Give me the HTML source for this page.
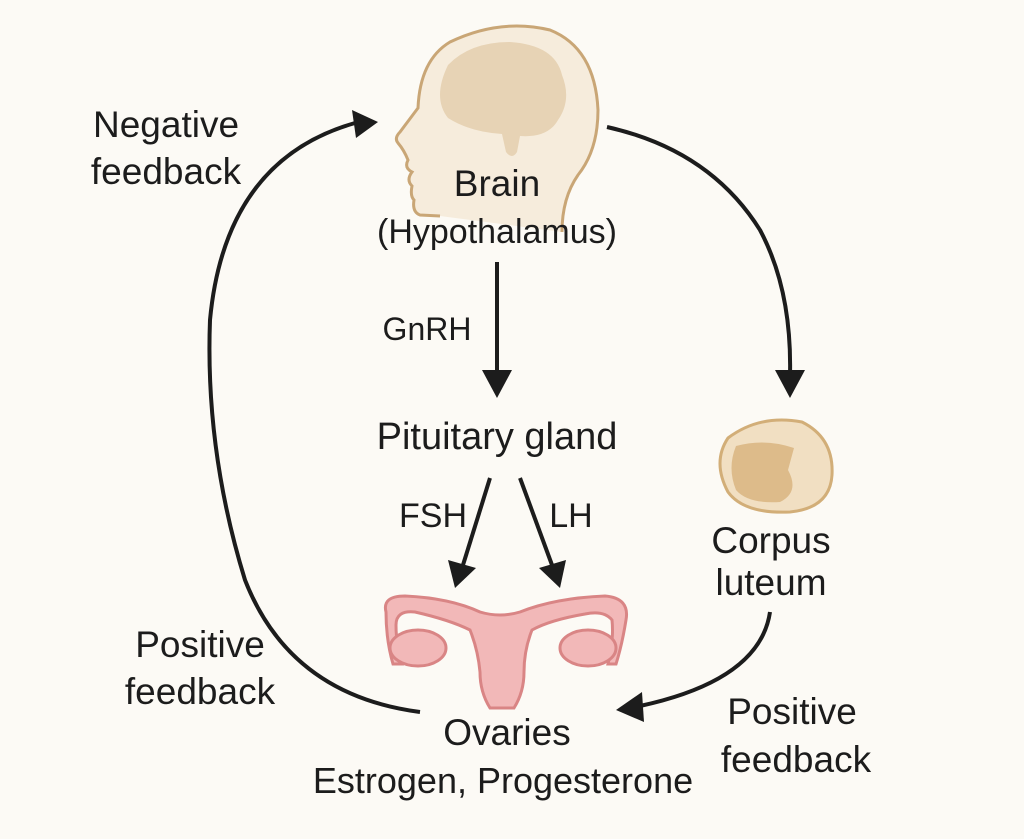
<!DOCTYPE html>
<html><head><style>
body{margin:0;background:#fcfaf5;}
svg{display:block;}
text{font-family:"Liberation Sans",sans-serif;fill:#1c1c1c;text-anchor:middle;}
</style></head><body>
<svg width="1024" height="839" viewBox="0 0 1024 839">
<rect width="1024" height="839" fill="#fcfaf5"/>
<path d="M440,216 L420,215 Q412,212 414,200 Q410,196 412,186 Q406,180 412,172 Q404,168 408,160 Q404,150 398,143 Q394,138 400,132 L418,108 Q420,60 450,42 Q500,18 550,30 Q595,48 598,110 Q598,150 578,175 Q562,198 562,232" fill="#f6ecdc" stroke="#c9a676" stroke-width="3"/>
<path d="M448,65 Q470,42 510,42 Q555,45 562,75 Q572,100 558,120 Q548,138 520,136 L517,152 Q512,160 506,152 L502,134 Q470,132 448,118 Q432,98 448,65 Z" fill="#e7d3b5"/>
<path d="M728,438 Q760,414 802,422 Q834,438 832,475 Q830,508 790,512 Q744,514 728,492 Q712,462 728,438Z" fill="#f1dfc2" stroke="#d2ae78" stroke-width="3"/>
<path d="M736,446 Q765,438 794,448 L788,470 Q800,492 780,502 Q748,504 736,490 Q727,468 736,446Z" fill="#ddbb8a"/>
<g fill="#f2b8b8" stroke="#d98585" stroke-width="3">
<path d="M386,612 Q382,596 405,596 Q450,598 480,612 Q500,618 520,612 Q555,598 605,596 Q630,598 626,620 Q622,645 616,664 L608,664 Q614,640 612,620 Q604,610 585,614 Q550,620 532,630 Q524,650 524,672 Q524,692 514,708 L490,708 Q480,692 480,672 Q478,650 470,630 Q450,620 415,612 Q396,610 396,625 Q396,645 402,664 L393,664 Q386,640 386,612Z"/>
<ellipse cx="418" cy="648" rx="28" ry="18"/>
<ellipse cx="588" cy="648" rx="28" ry="18"/>
</g>
<g stroke="#1c1c1c" stroke-width="4" fill="none">
<path d="M420,712 Q290,695 245,580 Q205,450 210,320 Q225,160 355,123"/>
<path d="M607,127 Q710,150 760,230 Q792,290 790,375"/>
<path d="M497,262 L497,375"/>
<path d="M490,478 L463,565"/>
<path d="M520,478 L552,565"/>
<path d="M770,612 Q760,680 640,706"/>
</g>
<g fill="#1c1c1c">
<polygon points="378,122 352,110 356,138"/>
<polygon points="790,398 775,370 805,370"/>
<polygon points="497,398 482,370 512,370"/>
<polygon points="455,588 448,560 476,568"/>
<polygon points="560,588 539,568 566,560"/>
<polygon points="616,710 642,692 644,722"/>
</g>
<g font-size="37">
<text x="166" y="137">Negative</text>
<text x="166" y="184">feedback</text>
<text x="497" y="196" font-size="37">Brain</text>
<text x="497" y="243" font-size="34">(Hypothalamus)</text>
<text x="427" y="340" font-size="32">GnRH</text>
<text x="497" y="449" font-size="38">Pituitary gland</text>
<text x="433" y="527" font-size="34">FSH</text>
<text x="571" y="527" font-size="34">LH</text>
<text x="771" y="553">Corpus</text>
<text x="771" y="595">luteum</text>
<text x="200" y="657">Positive</text>
<text x="200" y="704">feedback</text>
<text x="507" y="745">Ovaries</text>
<text x="503" y="793" font-size="36">Estrogen, Progesterone</text>
<text x="792" y="724">Positive</text>
<text x="796" y="772">feedback</text>
</g>
</svg>
</body></html>
